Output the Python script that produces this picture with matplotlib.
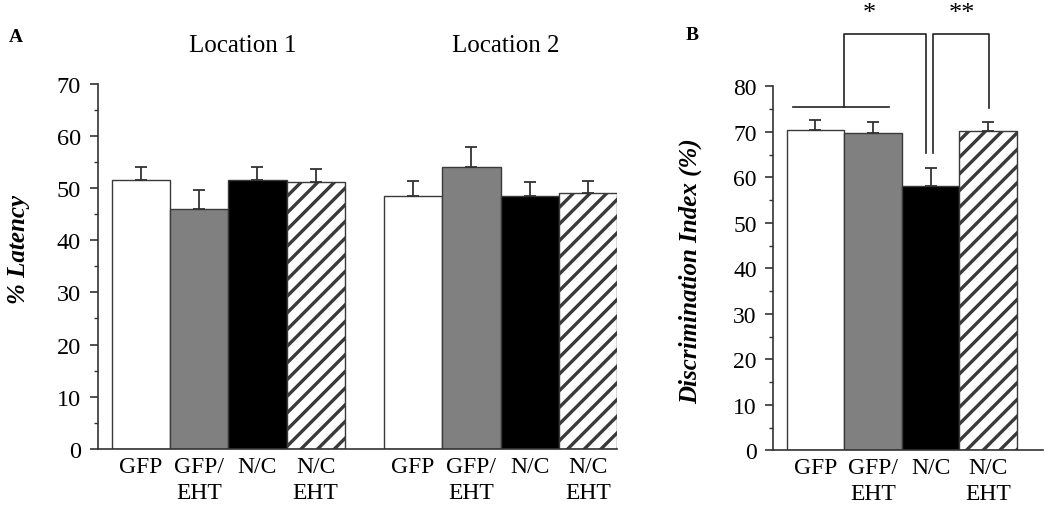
import numpy as np
import matplotlib
matplotlib.use("Agg")
import matplotlib.pyplot as plt
from matplotlib.ticker import MultipleLocator

plt.rcParams.update({"font.family": "Liberation Serif", "hatch.linewidth": 2.4,
                     "hatch.color": "black", "axes.linewidth": 1.2})

GROUPS = ["GFP", "GFP/\nEHT", "N/C", "N/C\nEHT"]
LOCS = ["Location 1", "Location 2"]
# panel A: % latency, mean and upward SEM
lat_loc1 = [51.5, 45.9, 51.5, 51.1]
lat_loc1_err = [2.6, 3.7, 2.6, 2.5]
lat_loc2 = [48.5, 54.1, 48.5, 49.0]
lat_loc2_err = [2.9, 3.7, 2.6, 2.4]
# panel B: discrimination index
di = [70.5, 69.7, 58.0, 70.1]
di_err = [2.2, 2.4, 4.0, 2.0]

FACES = ["white", "#808080", "black", "white"]
HATCH = [None, None, None, "//"]
EDGE = "#3a3a3a"

fig = plt.figure(figsize=(10.5, 5.06), dpi=100)
axA = fig.add_axes([0.0930, 0.1107, 0.4949, 0.7223])
axB = fig.add_axes([0.7365, 0.1081, 0.2568, 0.7194])

def bars(ax, x, vals, errs):
    for xi, v, fc, h in zip(x, vals, FACES, HATCH):
        ax.bar(xi, v, 1.0, color=fc, edgecolor=EDGE, linewidth=1.0, hatch=h, zorder=2)
    ax.errorbar(x, vals, yerr=[np.zeros(len(vals)), errs], fmt="none", ecolor="#333333",
                elinewidth=1.3, capsize=4, capthick=1.3, zorder=3)

def style(ax, ysize):
    for sp in ("top", "right"): ax.spines[sp].set_visible(False)
    ax.spines["left"].set_color("#333333"); ax.spines["bottom"].set_color("#333333")
    ax.yaxis.set_minor_locator(MultipleLocator(5))
    ax.tick_params(axis="y", which="major", direction="out", length=6, width=1.2,
                   labelsize=ysize, color="#333333", pad=6)
    ax.tick_params(axis="y", which="minor", direction="out", length=3, width=1.0, color="#333333")
    ax.tick_params(axis="x", length=0, labelsize=17, pad=5)

# panel A
x1 = np.arange(4)
x2 = np.arange(4) + 4.67
bars(axA, x1, lat_loc1, lat_loc1_err)
bars(axA, x2, lat_loc2, lat_loc2_err)
axA.set_xlim(-0.74, 8.17); axA.set_ylim(0, 70)
axA.yaxis.set_major_locator(MultipleLocator(10))
axA.set_xticks(np.concatenate([x1, x2]))
axA.set_xticklabels(GROUPS * 2, va="top", linespacing=1.3)
style(axA, 17.5)
axA.set_ylabel("% Latency", fontsize=18, fontweight="bold", style="italic")
axA.yaxis.set_label_coords(-0.13, 0.55)
for xc, lab in zip([1.75, 6.25], LOCS):
    axA.text(xc, 77.4, lab, ha="center", va="center", fontsize=18, clip_on=False)

# panel B
xb = np.arange(4)
bars(axB, xb, di, di_err)
axB.set_xlim(-0.73, 3.95); axB.set_ylim(0, 80)
axB.yaxis.set_major_locator(MultipleLocator(10))
axB.set_xticks(xb); axB.set_xticklabels(GROUPS, va="top", linespacing=1.3)
style(axB, 17)
axB.set_ylabel("Discrimination Index (%)", fontsize=18, fontweight="bold", style="italic")
axB.yaxis.set_label_coords(-0.264, 0.495)

# significance brackets (data coords)
br_lw = 1.2
axB.plot([-0.39, 1.27], [75.5, 75.5], color="#222222", lw=br_lw, clip_on=False)
axB.plot([0.49, 0.49, 1.92, 1.92], [75.5, 91.6, 91.6, 65.3], color="#222222", lw=br_lw, clip_on=False)
axB.plot([2.04, 2.04, 3.01, 3.01], [65.3, 91.6, 91.6, 75.2], color="#222222", lw=br_lw, clip_on=False)
axB.text(0.93, 96.0, "*", ha="center", va="center", fontsize=19, clip_on=False)
axB.text(2.55, 96.0, "**", ha="center", va="center", fontsize=19, clip_on=False)

fig.text(16/1050, 1 - 37/506, "A", fontsize=14, fontweight="bold", ha="center", va="center")
fig.text(692/1050, 1 - 35/506, "B", fontsize=14, fontweight="bold", ha="center", va="center")

fig.savefig("out.png", dpi=100)
